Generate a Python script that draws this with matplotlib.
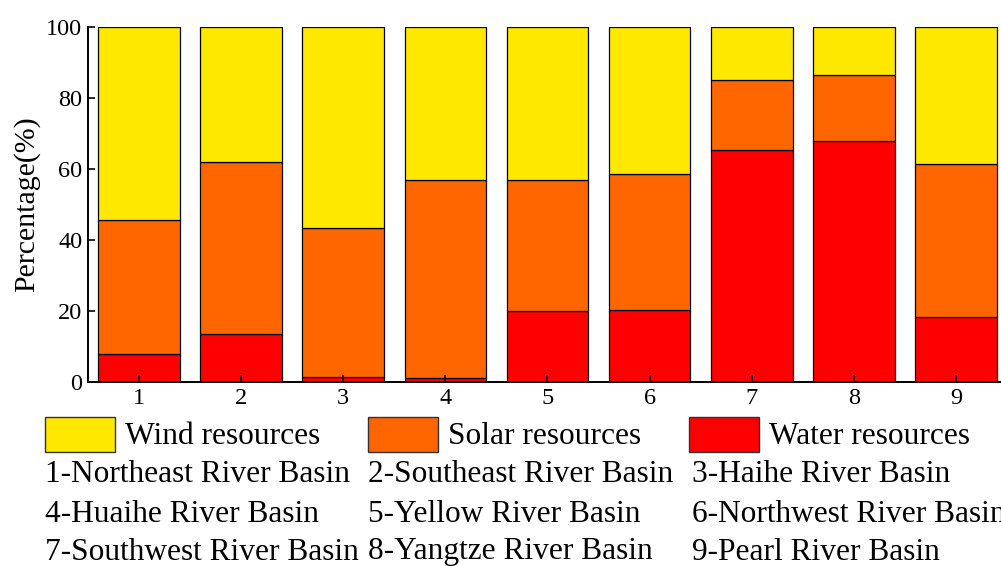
import matplotlib
matplotlib.use("Agg")
import matplotlib.pyplot as plt
from matplotlib.patches import Rectangle
import numpy as np

categories = ["1", "2", "3", "4", "5", "6", "7", "8", "9"]
water = [8.0, 13.5, 1.5, 1.0, 20.0, 20.3, 65.3, 68.0, 18.3]
solar = [37.7, 48.5, 41.8, 56.0, 37.0, 38.2, 19.7, 18.5, 43.2]
wind = [54.3, 38.0, 56.7, 43.0, 43.0, 41.5, 15.0, 13.5, 38.5]
series_names = ["Wind resources", "Solar resources", "Water resources"]
series_colors = ["#FFE800", "#FF6600", "#FF0000"]
basins = ["1-Northeast River Basin", "2-Southeast River Basin", "3-Haihe River Basin",
          "4-Huaihe River Basin", "5-Yellow River Basin", "6-Northwest River Basin",
          "7-Southwest River Basin", "8-Yangtze River Basin", "9-Pearl River Basin"]

plt.rcParams['font.family'] = ['Liberation Serif', 'DejaVu Serif']

W, H = 1001, 566
fig = plt.figure(figsize=(W / 100, H / 100), dpi=100)
ax = fig.add_axes([88 / W, 1 - 382 / H, 919 / W, (382 - 27) / H])

x = np.arange(1, len(categories) + 1)
w = np.array(water)
s = np.array(solar)
wd = np.array(wind)
bw = 0.8
ax.bar(x, w, bw, color=series_colors[2], edgecolor="black", linewidth=0.9)
ax.bar(x, s, bw, bottom=w, color=series_colors[1], edgecolor="black", linewidth=0.9)
ax.bar(x, wd, bw, bottom=w + s, color=series_colors[0], edgecolor="black", linewidth=0.9)

ax.set_xlim(0.5, 9.5)
ax.set_ylim(0, 100)
ax.set_xticks(x)
ax.set_xticklabels(categories)
ax.set_yticks([0, 20, 40, 60, 80, 100])
ax.tick_params(direction="in", length=5, width=1.2, labelsize=17.5, pad=4)
for sp in ["top", "right"]:
    ax.spines[sp].set_visible(False)
for sp in ["left", "bottom"]:
    ax.spines[sp].set_linewidth(1.4)
ax.set_ylabel("Percentage(%)", fontsize=21.5)
ax.yaxis.set_label_coords(-48 / 919, 0.5)

# legend row
leg_x = [45, 368, 689]
for i, (name, col) in enumerate(zip(series_names, series_colors)):
    fig.add_artist(Rectangle((leg_x[i] / W, 1 - 452 / H), 70 / W, 35 / H,
                             transform=fig.transFigure, facecolor=col,
                             edgecolor="#333333", linewidth=1.0))
    fig.text((leg_x[i] + 80) / W, 1 - 436 / H, name, fontsize=22.6,
             ha="left", va="center")

col_x = [45, 368, 692]
row_y = [474, 514, 552]
for i, b in enumerate(basins):
    r, c = divmod(i, 3)
    fig.text(col_x[c] / W, 1 - row_y[r] / H, b, fontsize=22.6,
             ha="left", va="center")

fig.savefig("out.png", dpi=100)
